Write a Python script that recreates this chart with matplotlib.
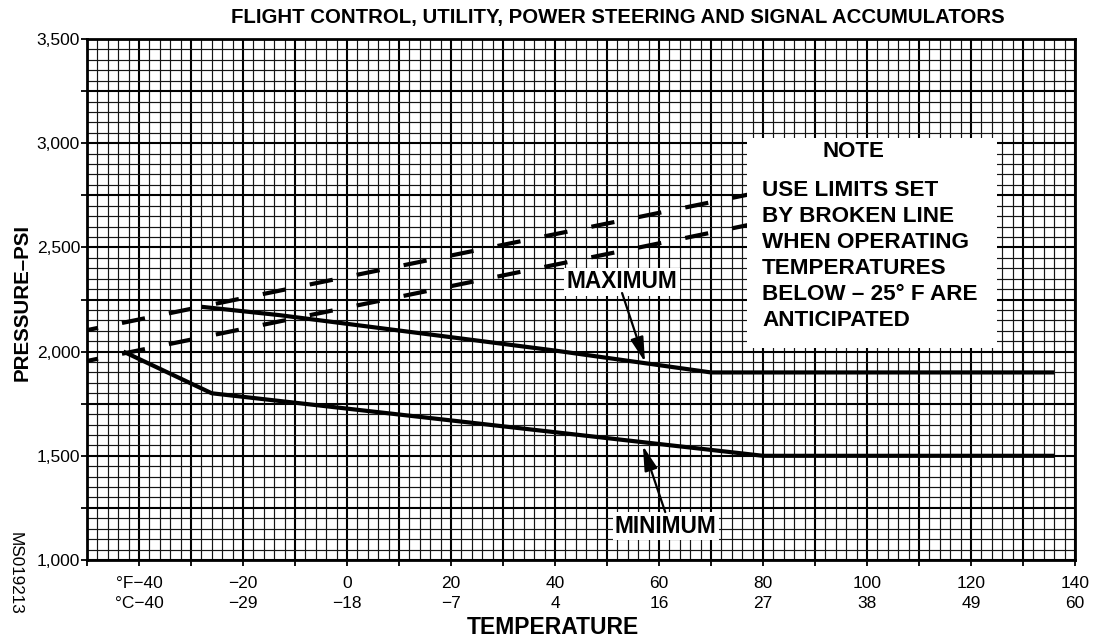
import matplotlib
matplotlib.use("Agg")
import matplotlib.pyplot as plt
from matplotlib.ticker import MultipleLocator, FuncFormatter, NullFormatter
from matplotlib.patches import Rectangle
from matplotlib.transforms import blended_transform_factory

plt.rcParams["font.family"] = ["Liberation Sans", "DejaVu Sans"]
plt.rcParams["lines.scale_dashes"] = False

# Temperature axis labels (Fahrenheit with Celsius equivalents)
temp_f_ticks = [-40, -20, 0, 20, 40, 60, 80, 100, 120, 140]
temp_c_labels = [-40, -29, -18, -7, 4, 16, 27, 38, 49, 60]

# Maximum precharge pressure curve
max_temp = [-28, -13, 40, 70, 136]
max_psi = [2215, 2175, 2005, 1900, 1900]

# Minimum precharge pressure curve
min_temp = [-43, -26, 80, 136]
min_psi = [2000, 1800, 1500, 1500]

# Broken-line limits for operation below -25 F
upper_dash_temp = [-50, 80]
upper_dash_psi = [2103, 2768]
lower_dash_temp = [-50, 80]
lower_dash_psi = [1955, 2622]

note_title = "NOTE"
note_lines = [
    "USE LIMITS SET",
    "BY BROKEN LINE",
    "WHEN OPERATING",
    "TEMPERATURES",
    "BELOW \u2013 25\u00b0 F ARE",
    "ANTICIPATED",
]

W, H = 1094, 642
AX_BOTTOM, AX_TOP = 560, 39
fig = plt.figure(figsize=(W / 100, H / 100), dpi=100)
ax = fig.add_axes([87 / W, 1 - AX_BOTTOM / H, (1075 - 87) / W, (AX_BOTTOM - AX_TOP) / H])
ax.set_xlim(-50, 140)
ax.set_ylim(1000, 3500)

# Graph-paper grid
ax.xaxis.set_major_locator(MultipleLocator(10))
ax.xaxis.set_minor_locator(MultipleLocator(2))
ax.yaxis.set_major_locator(MultipleLocator(250))
ax.yaxis.set_minor_locator(MultipleLocator(50))
ax.set_axisbelow(True)
ax.grid(which="major", color="black", lw=1.5)
ax.grid(which="minor", color="#151515", lw=0.85)

ax.xaxis.set_major_formatter(NullFormatter())
ax.yaxis.set_major_formatter(
    FuncFormatter(lambda v, p: f"{int(v):,}" if int(v) % 500 == 0 else "")
)
ax.tick_params(which="major", length=4, width=1.3, direction="out",
               labelsize=12.5, colors="black")
ax.tick_params(axis="y", which="major", pad=1)
ax.tick_params(which="minor", length=0)
for s in ax.spines.values():
    s.set_linewidth(2)
    s.set_zorder(6)

# Two-row temperature scale: Fahrenheit above, Celsius below
scale_tf = blended_transform_factory(ax.transData, ax.transAxes)
span = AX_BOTTOM - AX_TOP
row_f = -(584 - AX_BOTTOM) / span
row_c = -(603 - AX_BOTTOM) / span
for f, c in zip(temp_f_ticks, temp_c_labels):
    f_txt = f"{f}".replace("-", "\u2212")
    c_txt = f"{c}".replace("-", "\u2212")
    if f == temp_f_ticks[0]:
        f_txt = "\u00b0F" + f_txt
        c_txt = "\u00b0C" + c_txt
    ax.text(f, row_f, f_txt, transform=scale_tf, ha="center", va="center",
            fontsize=12.5, clip_on=False)
    ax.text(f, row_c, c_txt, transform=scale_tf, ha="center", va="center",
            fontsize=12.5, clip_on=False)

# Broken-line limits
dash = (8.8, (16.9, 17.6))
ax.plot(upper_dash_temp, upper_dash_psi, color="black", lw=3, ls=dash,
        dash_capstyle="butt", zorder=3)
ax.plot(lower_dash_temp, lower_dash_psi, color="black", lw=3, ls=dash,
        dash_capstyle="butt", zorder=3)

# Maximum and minimum curves
ax.plot(max_temp, max_psi, color="black", lw=3, solid_capstyle="butt",
        solid_joinstyle="round", zorder=3)
ax.plot(min_temp, min_psi, color="black", lw=3, solid_capstyle="butt",
        solid_joinstyle="round", zorder=3)

# Note panel
ax.add_patch(Rectangle((77, 2017), 48, 1008, facecolor="white",
                       edgecolor="none", zorder=4))
ax.text(97.3, 2958, note_title, ha="center", va="center", fontsize=16,
        fontweight="bold", zorder=5)
for i, line in enumerate(note_lines):
    ax.text(79.8, 2775 - i * 125, line, ha="left", va="center", fontsize=16.2,
            fontweight="bold", zorder=5)

# Curve labels with arrows
box = dict(boxstyle="square,pad=0.1", facecolor="white", edgecolor="none")
ax.text(52.9, 2334, "MAXIMUM", ha="center", va="center", fontsize=16.3,
        fontweight="bold", bbox=box, zorder=5)
ax.text(61.3, 1163, "MINIMUM", ha="center", va="center", fontsize=16.3,
        fontweight="bold", bbox=box, zorder=5)
arrow = dict(arrowstyle="-|>,head_length=0.75,head_width=0.2", color="black",
             lw=1.6, shrinkA=0, shrinkB=0, mutation_scale=20)
ax.annotate("", xy=(57.3, 1950), xytext=(52.9, 2281), arrowprops=arrow, zorder=5)
ax.annotate("", xy=(56.9, 1548), xytext=(61.2, 1230), arrowprops=arrow, zorder=5)

# Titles
fig.text(618 / W, 1 - 18 / H,
         "FLIGHT CONTROL, UTILITY, POWER STEERING AND SIGNAL ACCUMULATORS",
         ha="center", va="center", fontsize=14.7, fontweight="bold")
fig.text(553 / W, 1 - 628 / H, "TEMPERATURE", ha="center", va="center",
         fontsize=16.5, fontweight="bold")
fig.text(22 / W, 1 - 302 / H, "PRESSURE\u2013PSI", ha="center", va="center",
         rotation=90, fontsize=14.8, fontweight="bold")
fig.text(15 / W, 1 - 573 / H, "MS019213", ha="center", va="center",
         rotation=-90, fontsize=12.3)

fig.savefig("out.png", dpi=100)
